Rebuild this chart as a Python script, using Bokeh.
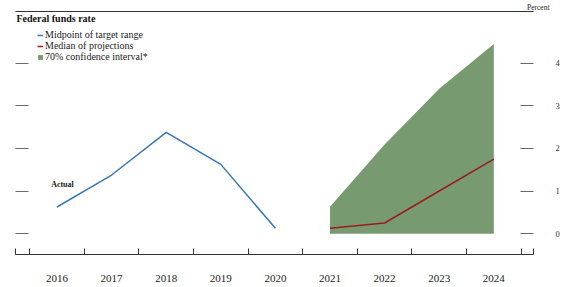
from bokeh.plotting import figure
from bokeh.models import FixedTicker, LinearAxis, Legend, LegendItem, Label, Range1d
from bokeh.embed import file_html
from bokeh.resources import INLINE

# ---- data ----
years_actual = [2016, 2017, 2018, 2019, 2020]
midpoint = [0.625, 1.375, 2.375, 1.625, 0.125]
years_proj = [2021, 2022, 2023, 2024]
median = [0.125, 0.25, 1.0, 1.75]
ci_low = [0.0, 0.0, 0.0, 0.0]
ci_high = [0.63, 2.09, 3.40, 4.45]
year_ticks = years_actual + years_proj
percent_ticks = [0, 1, 2, 3, 4]

FONT = "Liberation Serif"
BLUE = "#3a77b3"
RED = "#9b1c20"
GREEN = "#779a71"
AX = "#333333"
TICK = "#6a6a6a"

x0, x1 = 2015.2399, 2024.727
y0, y1 = -0.4884, 5.2093

p = figure(width=565, height=287, output_backend="svg", toolbar_location=None,
           x_range=Range1d(x0, x1), y_range=Range1d(y0, y1),
           x_axis_location=None, y_axis_location=None,
           min_border_left=15, min_border_right=32, min_border_top=9, min_border_bottom=33)
p.outline_line_color = None
p.grid.grid_line_color = None
p.background_fill_color = "white"
p.border_fill_color = "white"

# "Percent" unit label, right-aligned above the top rule
p.title.text = "Percent"
p.title.align = "right"
p.title.offset = -16
p.title.standoff = 0
p.title.text_font = FONT
p.title.text_font_size = "7.5px"
p.title.text_font_style = "normal"
p.title.text_color = "#222222"

band = p.varea(x=years_proj, y1=ci_low, y2=ci_high, fill_color=GREEN, fill_alpha=1.0)
red = p.line(years_proj, median, line_color=RED, line_width=1.5)
blue = p.line(years_actual, midpoint, line_color=BLUE, line_width=1.5)

# bottom axis: labels at year centres, ticks at year boundaries
bounds = [year_ticks[0] - 0.5] + [y + 0.5 for y in year_ticks]
edges = [x0 + 0.003, x1 - 0.003]
xa = LinearAxis(ticker=FixedTicker(ticks=year_ticks, minor_ticks=bounds + edges),
                major_tick_in=0, major_tick_out=0, minor_tick_in=6, minor_tick_out=0,
                axis_line_color=AX, minor_tick_line_color=AX,
                major_label_standoff=20, major_label_text_font=FONT,
                major_label_text_font_size="11px", major_label_text_color="#222222")
p.add_layout(xa, "below")

# top rule
ta = LinearAxis(ticker=FixedTicker(ticks=[]), axis_line_color=AX,
                major_tick_in=0, major_tick_out=0, minor_tick_in=0, minor_tick_out=0,
                major_label_text_color=None, major_label_standoff=0)
p.add_layout(ta, "above")

# left ticks, no labels
la = LinearAxis(ticker=FixedTicker(ticks=percent_ticks), axis_line_color=None,
                major_tick_in=13, major_tick_out=0, minor_tick_in=0, minor_tick_out=0,
                major_tick_line_color=TICK, major_label_text_color=None,
                major_label_text_font_size="1px", major_label_standoff=0)
p.add_layout(la, "left")

# right ticks with labels
ra = LinearAxis(ticker=FixedTicker(ticks=percent_ticks), axis_line_color=None,
                major_tick_in=13, major_tick_out=0, minor_tick_in=0, minor_tick_out=0,
                major_tick_line_color=TICK, major_label_standoff=22,
                major_label_text_font=FONT, major_label_text_font_size="8.5px",
                major_label_text_color="#333333")
p.add_layout(ra, "right")

legend = Legend(items=[LegendItem(label="Midpoint of target range", renderers=[blue]),
                       LegendItem(label="Median of projections", renderers=[red]),
                       LegendItem(label="70% confidence interval*", renderers=[band])],
                location=(22, 192), padding=0, margin=0, spacing=0,
                glyph_width=6, glyph_height=6, label_standoff=2, label_height=10,
                label_text_font=FONT, label_text_font_size="10px",
                label_text_color="#222222", border_line_color=None,
                background_fill_alpha=0)
p.add_layout(legend)

p.add_layout(Label(x=2015.258, y=5.0465, text="Federal funds rate", text_font=FONT,
                   text_font_size="10px", text_font_style="bold", text_baseline="middle",
                   text_color="#111111"))
p.add_layout(Label(x=2016.1, y=1.163, text="Actual", text_font=FONT,
                   text_font_size="8px", text_font_style="bold", text_baseline="middle",
                   text_align="center", text_color="#222222"))

open("out.html", "w").write(file_html(p, INLINE))
